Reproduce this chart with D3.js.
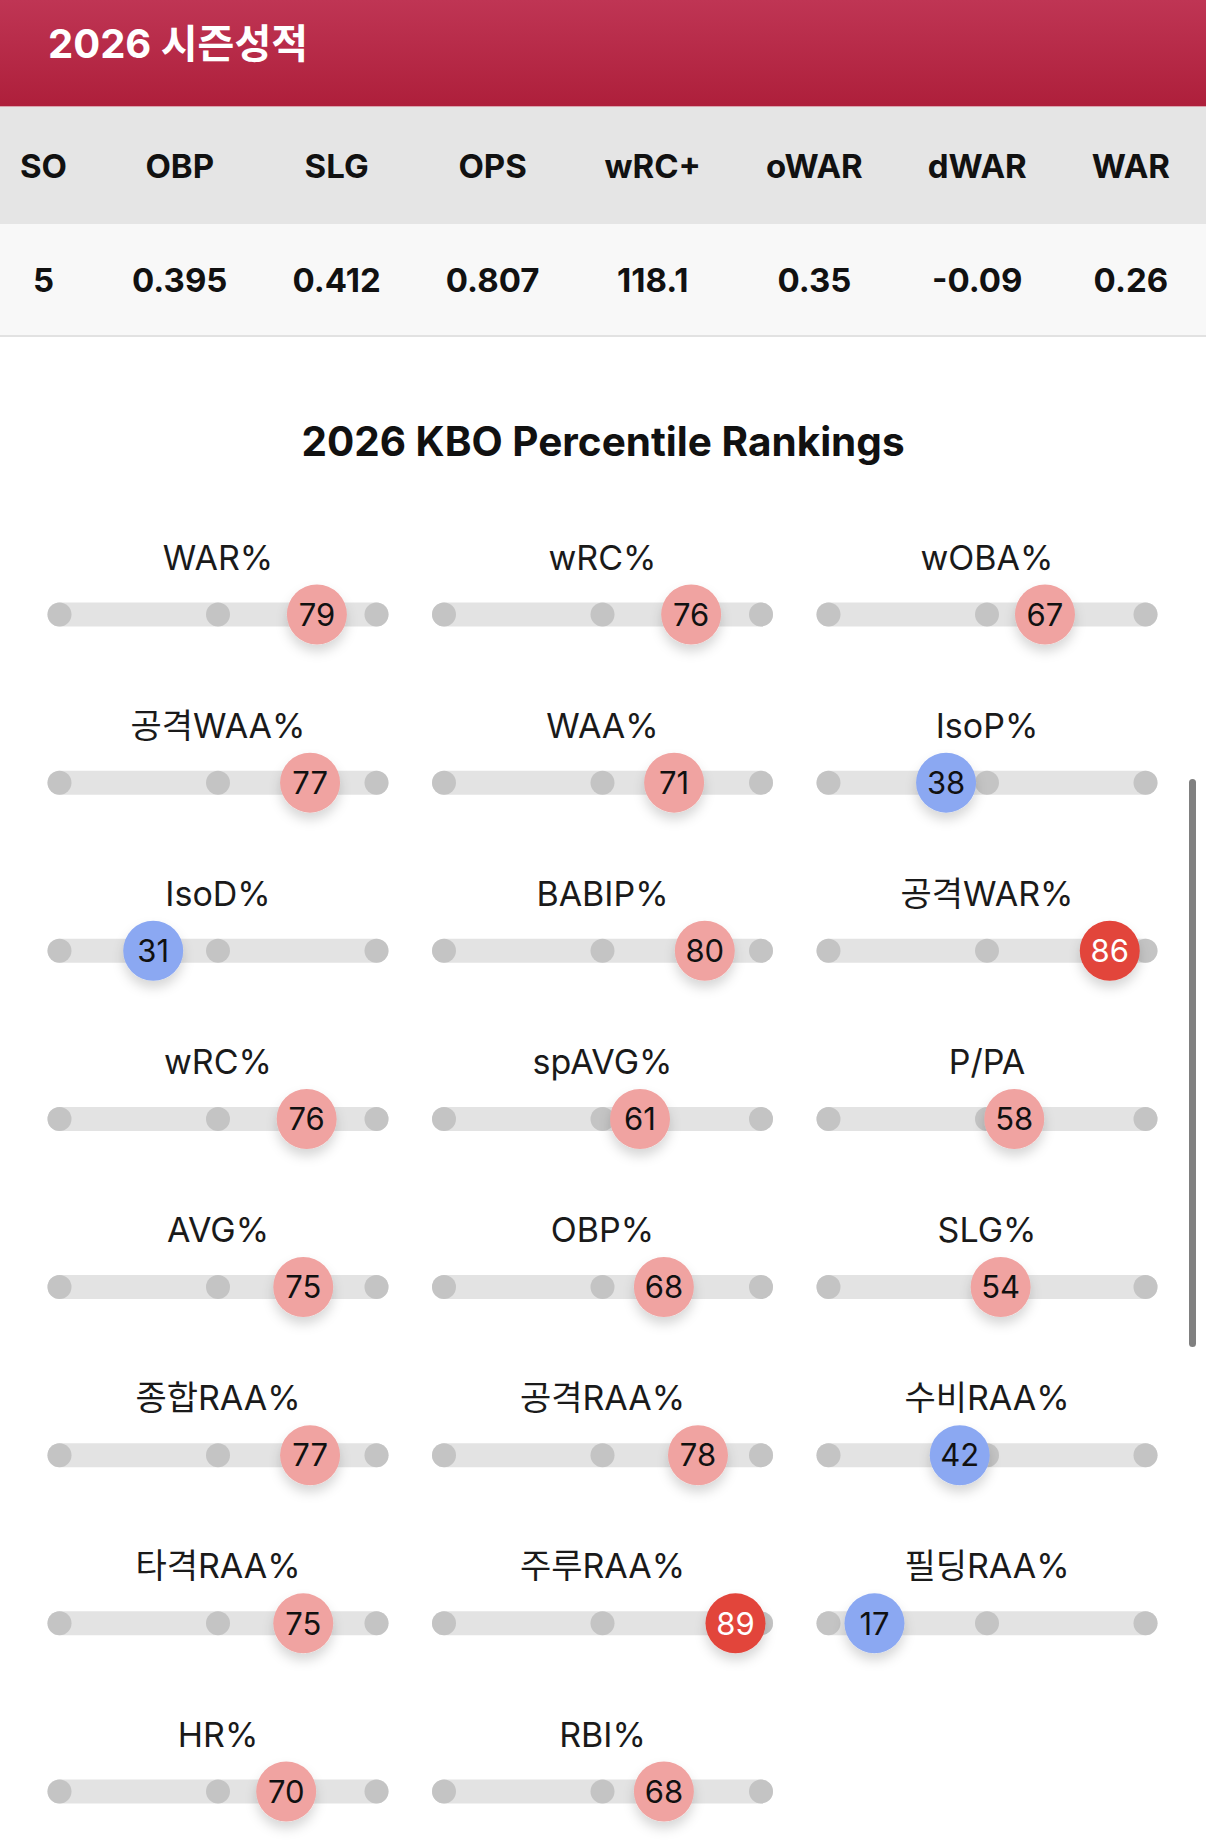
<!DOCTYPE html>
<html lang="ko">
<head>
<meta charset="UTF-8">
<title>2026 시즌성적</title>
<style>
  body {
    margin: 0;
    width: 1206px;
    height: 1842px;
    overflow: hidden;
    background: #fff;
    font-family: "Inter", "Noto Sans CJK KR", sans-serif;
    position: relative;
  }
  .header {
    height: 107px;
    background: linear-gradient(#bf3554, #ae1f3b);
    color: #fff;
    font-weight: 700;
    font-size: 40px;
    line-height: 1;
    padding-left: 48px;
    box-sizing: border-box;
    padding-top: 24px;
    border-bottom: 1px solid #d9a3ad;
  }
  table.stats {
    border-collapse: collapse;
    margin-left: -12.5px;
    white-space: nowrap;
  }
  .stats th, .stats td {
    font-size: 33px;
    font-weight: 700;
    color: #111;
    padding: 0 32.5px;
    text-align: center;
  }
  .stats th { height: 117px; }
  .stats td { height: 111px; }
  .wrap-table {
    background: linear-gradient(#e5e5e5 0, #e5e5e5 117px, #f8f8f8 117px);
    border-bottom: 2px solid #e2e2e2;
    overflow: hidden;
    width: 1206px;
  }
  .stats thead tr { background: #e5e5e5; }
  .scrollbar {
    position: absolute;
    left: 1189px;
    top: 779px;
    width: 7px;
    height: 568px;
    border-radius: 4px;
    background: #808080;
  }
</style>
</head>
<body>
<div class="header">2026 시즌성적</div>
<div class="wrap-table">
  <table class="stats">
    <thead><tr></tr></thead>
    <tbody><tr></tr></tbody>
  </table>
</div>
<div id="chart"></div>
<div class="scrollbar"></div>

<script src="https://d3js.org/d3.v7.min.js"></script>
<script>
// season stat table
var statCols = ["SO", "OBP", "SLG", "OPS", "wRC+", "oWAR", "dWAR", "WAR"];
var statVals = ["5", "0.395", "0.412", "0.807", "118.1", "0.35", "-0.09", "0.26"];

// percentile rankings (row by row, 3 per row)
var pctLabels = ["WAR%", "wRC%", "wOBA%",
                 "공격WAA%", "WAA%", "IsoP%",
                 "IsoD%", "BABIP%", "공격WAR%",
                 "wRC%", "spAVG%", "P/PA",
                 "AVG%", "OBP%", "SLG%",
                 "종합RAA%", "공격RAA%", "수비RAA%",
                 "타격RAA%", "주루RAA%", "필딩RAA%",
                 "HR%", "RBI%"];
var pctValues = [79, 76, 67,
                 77, 71, 38,
                 31, 80, 86,
                 76, 61, 58,
                 75, 68, 54,
                 77, 78, 42,
                 75, 89, 17,
                 70, 68];
var trackStops = [0, 50, 100];

d3.select(".stats thead tr").selectAll("th")
  .data(statCols).enter().append("th").text(function(d) { return d; });
d3.select(".stats tbody tr").selectAll("td")
  .data(statVals).enter().append("td").text(function(d) { return d; });

var width = 1206,
    height = 1842 - 339;
var top0 = 339; // page y where the svg starts

var svg = d3.select("#chart").append("svg")
  .attr("width", width)
  .attr("height", height);

var defs = svg.append("defs");
var f = defs.append("filter").attr("id", "shadow")
  .attr("x", "-50%").attr("y", "-50%").attr("width", "200%").attr("height", "220%");
f.append("feDropShadow")
  .attr("dx", 0).attr("dy", 7).attr("stdDeviation", 6)
  .attr("flood-color", "#000").attr("flood-opacity", 0.16);

svg.append("text")
  .attr("x", width / 2)
  .attr("y", 458 - top0)
  .attr("text-anchor", "middle")
  .style("font-size", "40.5px")
  .style("font-weight", 700)
  .style("fill", "#111")
  .text("2026 KBO Percentile Rankings");

var nCols = 3;
var nRows = Math.ceil(pctValues.length / nCols);
var colX = d3.scalePoint().domain(d3.range(nCols)).range([218, 987]);
var rowY = d3.scalePoint().domain(d3.range(nRows)).range([616.5 - top0, 1793.5 - top0]);
var trackW = 341, trackH = 24;

function colour(v) {
  if (v >= 85) return "#e2443b";
  if (v >= 50) return "#f0a3a1";
  return "#8ba8f2";
}

var items = pctValues.map(function(v, i) {
  return { label: pctLabels[i], value: v, col: i % nCols, row: Math.floor(i / nCols) };
});

var cell = svg.selectAll(".pct")
  .data(items)
  .enter().append("g")
  .attr("class", "pct")
  .attr("transform", function(d) { return "translate(" + colX(d.col) + "," + rowY(d.row) + ")"; });

cell.each(function(d) {
  var g = d3.select(this);
  var x = d3.scaleLinear().domain([0, 100]).range([-trackW / 2, trackW / 2]);

  g.append("text")
    .attr("x", 0)
    .attr("y", -45)
    .attr("text-anchor", "middle")
    .style("font-size", "34px")
    .style("fill", "#1a1a1a")
    .text(d.label);

  g.append("rect")
    .attr("x", x(0))
    .attr("y", -trackH / 2)
    .attr("width", x(100) - x(0))
    .attr("height", trackH)
    .attr("rx", trackH / 2)
    .style("fill", "#e3e3e3");

  g.selectAll(".stop")
    .data(trackStops)
    .enter().append("circle")
    .attr("class", "stop")
    .attr("cx", function(s) {
      // end dots sit inside the bar
      return s === 0 ? x(0) + trackH / 2 : s === 100 ? x(100) - trackH / 2 : x(s);
    })
    .attr("cy", 0)
    .attr("r", trackH / 2)
    .style("fill", "#c4c4c4");

  var m = g.append("g").attr("transform", "translate(" + x(d.value) + ",0)");
  m.append("circle")
    .attr("r", 30)
    .attr("filter", "url(#shadow)")
    .style("fill", colour(d.value));
  m.append("text")
    .attr("text-anchor", "middle")
    .attr("dy", "0.36em")
    .style("font-size", "31px")
    .style("fill", d.value >= 85 ? "#fff" : "#111")
    .text(d.value);
});
</script>
</body>
</html>
